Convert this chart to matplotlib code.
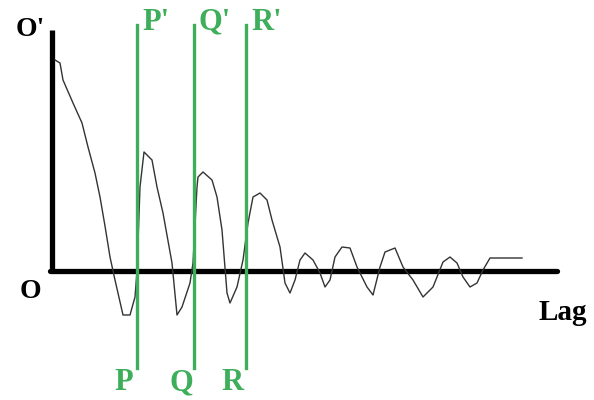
import matplotlib
matplotlib.use('Agg')
import matplotlib.pyplot as plt

# correlogram sketch: lag (x) vs correlation (y), origin at O
lag = [3, 8, 11, 21, 30, 36, 43, 48, 53, 58, 63, 71, 78, 83, 85, 88, 92, 100, 105, 111, 120,
       125, 130, 138, 141, 145, 146, 151, 160, 165, 170, 175, 178, 185, 191, 196, 201, 208,
       215, 220, 228, 233, 238, 243, 248, 253, 261, 268, 273, 278, 283, 290, 298, 305, 315,
       321, 328, 333, 343, 351, 361, 371, 381, 391, 398, 405, 411, 418, 425, 431, 438, 470]
acf = [211, 208, 191, 168, 148, 124, 98, 74, 45, 14, -9, -44, -44, -26, 0, 84, 119, 111, 84,
       58, 8, -44, -36, -12, 8, 84, 94, 99, 91, 74, 41, -22, -32, -16, 11, 48, 74, 78,
       71, 51, 24, -12, -22, -9, 11, 18, 11, -2, -16, -9, 14, 24, 23, 4, -16,
       -24, 4, 19, 23, 4, -9, -26, -16, 9, 14, 8, -6, -16, -12, 1, 13, 13]

# vertical markers P, Q, R
mark_lag = [85, 142, 194]
mark_top = ['P\'', 'Q\'', 'R\'']
mark_bot = ['P', 'Q', 'R']

green = '#3fae5a'
serif = 'Liberation Serif'

fig = plt.figure(figsize=(5.94, 4.00), dpi=100)
ax = fig.add_axes([0, 0, 1, 1])
ax.set_xlim(-52, 542)
ax.set_ylim(-129, 271)
ax.axis('off')

# axes of the sketch
ax.plot([0, 0], [0, 241], color='black', lw=3.8, solid_capstyle='butt')
ax.plot([-2, 505], [0, 0], color='black', lw=3.8, solid_capstyle='round')

ax.plot(lag, acf, color='#333333', lw=1.0)

for x, t, b in zip(mark_lag, mark_top, mark_bot):
    ax.plot([x, x], [-97, 246], color=green, lw=2.4)
    ax.text(x + 5, 249, t, color=green, fontsize=22, fontweight='bold',
            family=serif, ha='left', va='center')
    ax.text(x - 13, -112, b, color=green, fontsize=22, fontweight='bold',
            family=serif, ha='center', va='center')

ax.text(-22, 241, 'O\'', fontsize=20, fontweight='bold', family=serif,
        ha='center', va='center')
ax.text(-22, -21, 'O', fontsize=20, fontweight='bold', family=serif,
        ha='center', va='center')
ax.text(511, -41, 'Lag', fontsize=21, fontweight='bold', family=serif,
        ha='center', va='center')

fig.savefig('out.png', dpi=100)
